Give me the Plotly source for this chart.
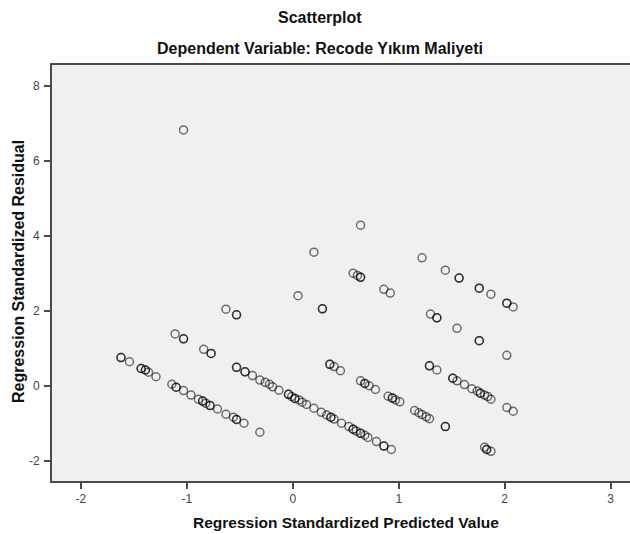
import plotly.graph_objects as go

# Regression diagnostics: standardized predicted values vs standardized residuals.
# Cases that coincide are listed more than once (they print darker).
predicted = [
    -1.03, 0.64, 0.20, 1.22, 1.44, 1.57, 1.57, 0.57, 0.61, 0.64, 0.64,
    1.76, 1.76, 1.87, 0.86, 0.92, 0.05, 2.02, 2.02, 2.08, 0.28, 0.28,
    -0.63, -0.53, -0.53, 1.30, 1.36, 1.36, 1.55, 1.76, 1.76,
    -1.11, -1.03, -1.03, -0.84, -0.77, -0.77, 2.02,
    -1.62, -1.62, -1.54, 0.35, 0.35, 0.39, 0.45, 1.29, 1.29, 1.36,
    -1.43, -1.43, -1.39, -1.39, -1.36, -1.29,
    -0.53, -0.53, -0.45, -0.45, -0.38, -0.31, -0.26, -0.22, -0.19, -0.13,
    -0.04, -0.04, -0.01, 0.02, 0.02, 0.06, 0.09, 0.13, 0.20, 0.27,
    0.32, 0.36, 0.36, 0.39, 0.46, 0.53, 0.57, 0.57, 0.60, 0.64, 0.64, 0.68, 0.71,
    0.79, 0.86, 0.86, 0.93,
    0.64, 0.68, 0.68, 0.72, 0.78, 0.90, 0.94, 0.94, 0.97, 1.01,
    1.15, 1.19, 1.22, 1.26, 1.29, 1.44, 1.44,
    1.51, 1.51, 1.55, 1.62, 1.69, 1.74, 1.77, 1.77, 1.81, 1.84, 1.87,
    2.02, 2.08, 1.81, 1.83, 1.83, 1.87,
    -1.14, -1.10, -1.10, -1.03, -0.96, -0.89, -0.85, -0.85, -0.82, -0.78, -0.78, -0.71,
    -0.63, -0.56, -0.53, -0.53, -0.46, -0.31,
]
residual = [
    6.82, 4.28, 3.56, 3.41, 3.08, 2.87, 2.87, 3.00, 2.94, 2.89, 2.89,
    2.60, 2.60, 2.44, 2.57, 2.47, 2.40, 2.20, 2.20, 2.10, 2.05, 2.05,
    2.04, 1.89, 1.89, 1.91, 1.81, 1.81, 1.53, 1.20, 1.20,
    1.38, 1.25, 1.25, 0.97, 0.86, 0.86, 0.81,
    0.75, 0.75, 0.64, 0.57, 0.57, 0.51, 0.40, 0.53, 0.53, 0.42,
    0.46, 0.46, 0.42, 0.42, 0.36, 0.24,
    0.49, 0.49, 0.37, 0.37, 0.27, 0.15, 0.09, 0.04, -0.03, -0.12,
    -0.23, -0.23, -0.29, -0.34, -0.34, -0.38, -0.44, -0.50, -0.60, -0.71,
    -0.78, -0.84, -0.84, -0.89, -1.00, -1.09, -1.16, -1.16, -1.21, -1.27, -1.27, -1.32, -1.38,
    -1.49, -1.61, -1.61, -1.70,
    0.13, 0.06, 0.06, 0.00, -0.10, -0.28, -0.33, -0.33, -0.38, -0.43,
    -0.66, -0.72, -0.77, -0.83, -0.88, -1.09, -1.09,
    0.20, 0.20, 0.13, 0.03, -0.08, -0.14, -0.20, -0.20, -0.25, -0.29, -0.36,
    -0.58, -0.68, -1.64, -1.70, -1.70, -1.75,
    0.04, -0.04, -0.04, -0.13, -0.25, -0.36, -0.41, -0.41, -0.47, -0.53, -0.53, -0.62,
    -0.76, -0.84, -0.90, -0.90, -1.00, -1.24,
]

x_ticks = [-2, -1, 0, 1, 2, 3]
y_ticks = [-2, 0, 2, 4, 6, 8]

FONT = "Arial, Liberation Sans, sans-serif"

fig = go.Figure(
    go.Scatter(
        x=predicted,
        y=residual,
        mode="markers",
        marker=dict(
            symbol="circle-open",
            size=8,
            color="rgba(0,0,0,0.55)",
            line=dict(width=1.5, color="rgba(0,0,0,0.55)"),
        ),
        hoverinfo="x+y",
    )
)

axis_common = dict(
    showgrid=False,
    zeroline=False,
    showline=True,
    linecolor="#4a4a4a",
    linewidth=2,
    ticks="outside",
    ticklen=6,
    tickwidth=1.5,
    tickcolor="#4a4a4a",
    tickfont=dict(family=FONT, size=12, color="#444444"),
)

fig.update_xaxes(
    range=[-2.271, 3.182],
    tickvals=x_ticks,
    ticktext=[str(v) for v in x_ticks],
    mirror=True,
    ticks="outside",
    **{k: v for k, v in axis_common.items() if k != "ticks"},
)
fig.update_yaxes(
    range=[-2.54, 8.552],
    tickvals=y_ticks,
    ticktext=[str(v) for v in y_ticks],
    ticklabelstandoff=2,
    **axis_common,
)

title_font = dict(family=FONT, size=16, color="#111111")
annotations = [
    dict(text="<b>Scatterplot</b>", x=0.4637, y=1.113, font=title_font),
    dict(text="<b>Dependent Variable: Recode Yıkım Maliyeti</b>", x=0.4637, y=1.0385,
         font=title_font),
    dict(text="<b>Regression Standardized Predicted Value</b>", x=0.5087, y=-0.0986,
         font=dict(family=FONT, size=15.5, color="#111111")),
    dict(text="<b>Regression Standardized Residual</b>", x=-0.058, y=0.5036,
         textangle=-90, font=title_font),
]
for a in annotations:
    a.update(xref="paper", yref="paper", xanchor="center", yanchor="middle",
             showarrow=False)

fig.update_layout(
    width=630,
    height=534,
    margin=dict(l=52, r=0, t=65, b=53),
    paper_bgcolor="white",
    plot_bgcolor="#F0F0F0",
    showlegend=False,
    annotations=annotations,
)

fig.write_html("out.html")
